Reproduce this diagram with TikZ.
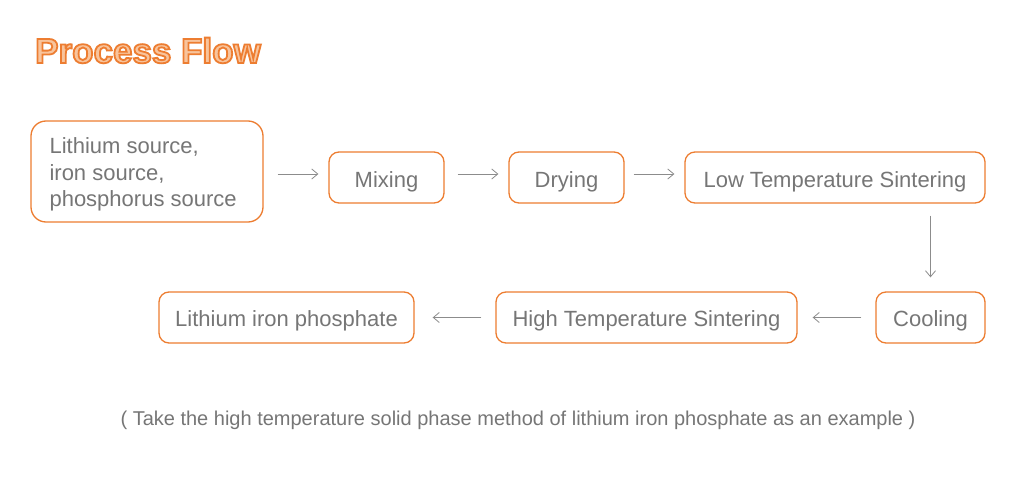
\documentclass[tikz,border=0pt]{standalone}
\usepackage{fontspec}
\setmainfont{Liberation Sans}
\usetikzlibrary{arrows.meta}
\definecolor{orng}{HTML}{ED7D31}
\definecolor{ltorng}{HTML}{F8C49C}
\definecolor{txtgray}{HTML}{767676}
\definecolor{arrgray}{HTML}{8C8C8C}
\begin{document}
\begin{tikzpicture}[x=1pt,y=-1pt,
  box/.style={draw=orng, line width=1.3pt, rounded corners=10pt, text=txtgray,
    font=\fontsize{22}{26.5}\selectfont, minimum height=51pt, inner sep=0pt,
    text height=20.5pt, text depth=0pt},
  lowbox/.style={box, text height=17pt},
  flow/.style={draw=arrgray, line width=0.8pt, -{Straight Barb[length=6pt,width=10pt]}},
  txt/.style={text=txtgray, inner sep=0pt}]
\useasboundingbox[fill=white] (0,0) rectangle (1030,484);
% title
\node[anchor=base west, inner sep=0pt] (title) at (35,63)
  {\fontsize{35}{40}\selectfont\bfseries\color{ltorng}\special{pdf:literal direct 0.929 0.490 0.192 RG 1.8 w 2 Tr}Process Flow\special{pdf:literal direct 0 Tr}};
% boxes
\node[draw=orng, line width=1.3pt, minimum width=232pt, minimum height=101pt, rounded corners=15pt, inner sep=0pt] (src) at (147,171.5) {};
\node[txt, anchor=west, align=left, font=\fontsize{22}{26.5}\selectfont] (srct) at ([xshift=19pt,yshift=-3pt]src.west)
  {Lithium source,\\iron source,\\phosphorus source};
\node[box, minimum width=115pt] (mix) at (386.5,177.5) {Mixing};
\node[box, minimum width=115pt] (dry) at (566.5,177.5) {Drying};
\node[box, minimum width=300pt] (low) at (835,177.5) {Low Temperature Sintering};
\node[lowbox, minimum width=109pt] (cool) at (930.5,317.5) {Cooling};
\node[lowbox, minimum width=301pt] (high) at (646.5,317.5) {High Temperature Sintering};
\node[lowbox, minimum width=255pt] (lip) at (286.5,317.5) {Lithium iron phosphate};
% arrows
\draw[flow, shorten <=14pt, shorten >=10pt] ([yshift=3.5pt]src.east |- mix.west) -- ([yshift=3.5pt]mix.west);
\draw[flow, shorten <=13pt, shorten >=10pt] ([yshift=3.5pt]mix.east) -- ([yshift=3.5pt]dry.west);
\draw[flow, shorten <=9pt, shorten >=10pt] ([yshift=3.5pt]dry.east) -- ([yshift=3.5pt]low.west);
\draw[flow, shorten <=12pt, shorten >=14pt] (low.south -| cool.north) -- (cool.north);
\draw[flow, shorten <=14pt, shorten >=15pt] (cool.west) -- (high.east);
\draw[flow, shorten <=14pt, shorten >=18pt] (high.west) -- (lip.east);
% note
\node[txt, font=\fontsize{20}{24}\selectfont] (note) at (518,420)
  {( Take the high temperature solid phase method of lithium iron phosphate as an example )};
\end{tikzpicture}
\end{document}
